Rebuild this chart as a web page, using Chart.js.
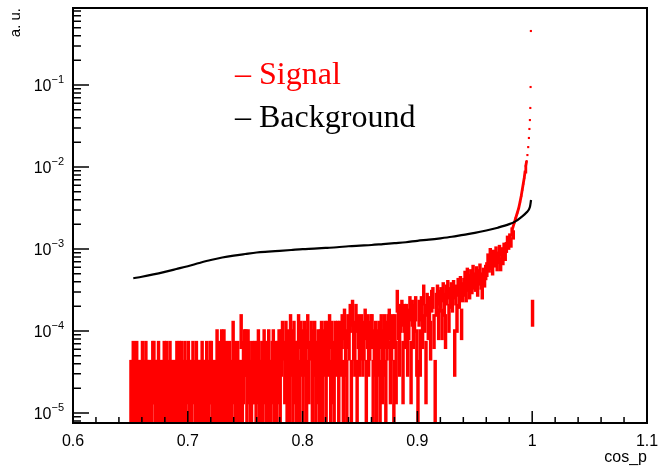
<!DOCTYPE html>
<html>
<head>
<meta charset="utf-8">
<script src="https://cdn.jsdelivr.net/npm/chart.js@4.4.1/dist/chart.umd.min.js"></script>
<style>
  html, body { margin: 0; padding: 0; background: #fff; }
  canvas { display: block; }
</style>
</head>
<body>
<canvas id="cosChart" width="660" height="467"></canvas>
<script>
// signal: entries per 0.001 bin, first bin starts at 0.650
const binStart = 0.65;
const binWidth = 0.001;
const countWeight = 2.2e-5; // a.u. per entry
const sigCounts = [
  1,1,2,1,1,2,1,1,0,1,   // 0.65
  2,1,1,2,1,1,1,0,1,2,   // 0.66
  2,1,1,1,2,1,0,1,1,2,   // 0.67
  1,2,1,1,2,1,1,0,1,1,   // 0.68
  2,1,2,1,2,1,1,2,1,0,   // 0.69
  2,1,1,1,2,0,1,2,1,1,   // 0.70
  1,1,2,1,1,1,2,1,1,2,   // 0.71
  2,1,1,0,1,3,1,2,1,3,   // 0.72
  1,3,1,2,1,1,2,1,1,4,   // 0.73
  2,1,1,2,1,1,5,1,2,3,   // 0.74
  3,1,3,2,1,1,2,0,2,1,   // 0.75
  2,3,1,1,2,1,3,2,1,1,   // 0.76
  3,1,1,2,3,1,2,1,2,3,   // 0.77
  1,3,4,0,2,4,1,3,1,5,   // 0.78
  3,1,4,2,1,2,5,1,4,3,   // 0.79
  1,4,3,1,5,2,0,4,1,3,   // 0.80
  4,1,2,3,1,3,4,1,3,4,   // 0.81
  1,4,3,5,1,4,2,1,4,3,   // 0.82
  4,1,4,3,5,1,6,3,1,5,   // 0.83
  4,7,1,8,4,3,7,1,5,3,   // 0.84
  4,5,3,4,6,1,5,3,4,5,   // 0.85
  5,1,3,4,1,3,4,1,5,2,   // 0.86
  3,5,1,4,5,6,2,4,5,1,   // 0.87
  5,2,11,6,3,7,8,2,7,5,  // 0.88
  7,3,6,9,2,8,5,7,9,3,   // 0.89
  1,8,3,9,5,13,7,2,10,6, // 0.90
  9,4,11,12,5,1,10,13,6,11,   // 0.91
  12,6,14,10,5,13,15,7,12,14, // 0.92
  11,15,3,13,7,16,12,17,6,14, // 0.93
  16,20,14,22,18,15,21,17,24,19, // 0.94
  18,23,16,21,25,19,15,22,20,24, // 0.95
  26,34,29,40,31,27,38,33,42,30, // 0.96
  36,44,30,41,35,47,39,48,58,52, // 0.97
  62,55,74,68                    // 0.98
];
// lone bin just past 1
const edgeBinX = 1.0003;
const edgeBinCount = 8;

// steep signal peak next to 1
const peakX = [0.98304, 0.98435, 0.98565, 0.98696, 0.98826, 0.98939, 0.99043, 0.99130, 0.99217,
  0.99304, 0.99374, 0.99443, 0.99513, 0.99583, 0.99652, 0.99713, 0.99757, 0.99800, 0.99835,
  0.99860, 0.99885];
const peakY = [1.80e-3, 2.08e-3, 2.39e-3, 2.75e-3, 3.16e-3, 3.74e-3, 4.43e-3, 5.24e-3, 6.21e-3,
  7.35e-3, 8.69e-3, 1.03e-2, 1.18e-2, 1.40e-2, 1.75e-2, 2.26e-2, 2.91e-2, 3.74e-2, 5.25e-2,
  9.46e-2, 0.456];

// background
const bgX = [0.6525, 0.66, 0.67, 0.68, 0.69, 0.70, 0.71, 0.72, 0.73, 0.74, 0.75, 0.76, 0.77, 0.78,
  0.79, 0.80, 0.81, 0.82, 0.83, 0.84, 0.85, 0.86, 0.87, 0.88, 0.89, 0.90, 0.91, 0.92, 0.93,
  0.94, 0.95, 0.96, 0.97, 0.98, 0.985, 0.99, 0.995, 0.998, 0.999];
const bgY = [4.40e-4, 4.59e-4, 4.90e-4, 5.27e-4, 5.70e-4, 6.17e-4, 6.75e-4, 7.34e-4, 7.87e-4,
  8.31e-4, 8.69e-4, 9.06e-4, 9.29e-4, 9.50e-4, 9.72e-4, 9.95e-4, 1.01e-3, 1.03e-3, 1.05e-3,
  1.08e-3, 1.10e-3, 1.12e-3, 1.15e-3, 1.18e-3, 1.21e-3, 1.26e-3, 1.30e-3, 1.35e-3, 1.41e-3,
  1.49e-3, 1.57e-3, 1.68e-3, 1.82e-3, 2.01e-3, 2.16e-3, 2.42e-3, 2.79e-3, 3.25e-3, 3.96e-3];

const xTicks = [0.6, 0.7, 0.8, 0.9, 1.0, 1.1];
const yDecades = [-5, -4, -3, -2, -1];
const legendNames = ["Signal", "Background"];

const xMin = 0.6, xMax = 1.1;
const yMin = 7.55e-6, yMax = 0.87;
const red = "#ff0000";

function errBar(x, n) {
  let v = n * countWeight;
  let e = Math.sqrt(n) * countWeight;
  return { x: x, y: [Math.max(v - e, yMin), v + e] };
}

sigBars = [];
sigCounts.forEach((n, i) => {
  if (n > 0) sigBars.push(errBar(binStart + (i + 0.5) * binWidth, n));
});
sigBars.push(errBar(edgeBinX, edgeBinCount));

// ROOT-like frame, inner ticks, labels and legend text
const rootAxes = {
  id: "rootAxes",
  afterDatasetsDraw(chart) {
    const { ctx, chartArea: a, scales } = chart;
    const x = scales.x, y = scales.y;
    ctx.save();
    ctx.strokeStyle = "#000";
    ctx.lineWidth = 1.5;
    ctx.beginPath();
    for (let k = 0; k <= 25; k++) {
      let px = x.getPixelForValue(xMin + k * 0.02);
      let len = k % 5 === 0 ? 12 : 6;
      ctx.moveTo(px, a.bottom);
      ctx.lineTo(px, a.bottom - len);
    }
    for (let d = -6; d <= 0; d++) {
      for (let m = 1; m <= 9; m++) {
        let v = m * Math.pow(10, d);
        if (v < yMin || v > yMax) continue;
        let py = y.getPixelForValue(v);
        ctx.moveTo(a.left, py);
        ctx.lineTo(a.left + (m === 1 ? 16 : 8), py);
      }
    }
    ctx.stroke();
    ctx.lineWidth = 2;
    ctx.strokeRect(a.left, a.top, a.right - a.left, a.bottom - a.top);

    // decade labels with superscript exponent
    ctx.fillStyle = "#000";
    ctx.textAlign = "left";
    ctx.textBaseline = "alphabetic";
    yDecades.forEach((d) => {
      let py = y.getPixelForValue(Math.pow(10, d));
      let exp = "\u2212" + Math.abs(d);
      ctx.font = '11px "Liberation Sans"';
      let ew = ctx.measureText(exp).width;
      ctx.font = '16px "Liberation Sans"';
      let bw = ctx.measureText("10").width;
      let right = 64;
      ctx.fillText("10", right - ew - bw, py + 6);
      ctx.font = '11px "Liberation Sans"';
      ctx.fillText(exp, right - ew, py - 2);
    });

    // legend
    ctx.font = '32px "Liberation Serif"';
    ctx.fillStyle = red;
    ctx.fillText("\u2013 " + legendNames[0], 235, 84);
    ctx.fillStyle = "#000";
    ctx.fillText("\u2013 " + legendNames[1], 235, 127);
    ctx.restore();
  }
};

let myChart = document.getElementById("cosChart").getContext("2d");
new Chart(myChart, {
  type: "bar",
  data: {
    datasets: [
      {
        type: "line",
        label: legendNames[1],
        data: bgX.map((v, i) => ({ x: v, y: bgY[i] })),
        borderColor: "#000",
        borderWidth: 2.2,
        pointRadius: 0,
        cubicInterpolationMode: "monotone",
        order: 0,
      },
      {
        type: "line",
        label: legendNames[0] + " peak",
        data: peakX.map((v, i) => ({ x: v, y: peakY[i] })),
        borderColor: red,
        borderWidth: 2.8,
        pointRadius: 1.5,
        pointStyle: "rect",
        pointBackgroundColor: red,
        pointBorderWidth: 0,
        segment: {
          borderColor: (c) => (c.p1.parsed.y > 0.012 ? "rgba(0,0,0,0)" : red),
        },
        order: 1,
      },
      {
        type: "bar",
        label: legendNames[0],
        data: sigBars,
        backgroundColor: red,
        borderWidth: 0,
        barThickness: 2.8,
        order: 2,
      },
    ],
  },
  options: {
    responsive: false,
    animation: false,
    layout: { padding: { top: 8, right: 13, left: 0, bottom: 0 } },
    plugins: { legend: { display: false }, tooltip: { enabled: false } },
    scales: {
      x: {
        type: "linear",
        min: xMin,
        max: xMax,
        offset: false,
        grid: { display: false, offset: false },
        border: { display: false },
        afterBuildTicks: (s) => { s.ticks = xTicks.map((v) => ({ value: v })); },
        afterFit: (s) => { s.height = 44; },
        ticks: {
          autoSkip: false,
          maxRotation: 0,
          padding: 1,
          color: "#000",
          font: { family: "Liberation Sans", size: 16 },
          callback: (v) => String(Math.round(v * 10) / 10),
        },
        title: {
          display: true,
          text: "cos_p",
          align: "end",
          color: "#000",
          font: { family: "Liberation Sans", size: 16 },
          padding: { top: 0, bottom: 0 },
        },
      },
      y: {
        type: "logarithmic",
        min: yMin,
        max: yMax,
        grid: { display: false },
        border: { display: false },
        ticks: { display: false },
        afterFit: (s) => { s.width = 73; },
        title: {
          display: true,
          text: "a. u.",
          align: "end",
          color: "#000",
          font: { family: "Liberation Sans", size: 15 },
          padding: { top: 7, bottom: 0 },
        },
      },
    },
  },
  plugins: [rootAxes],
});
</script>
</body>
</html>
